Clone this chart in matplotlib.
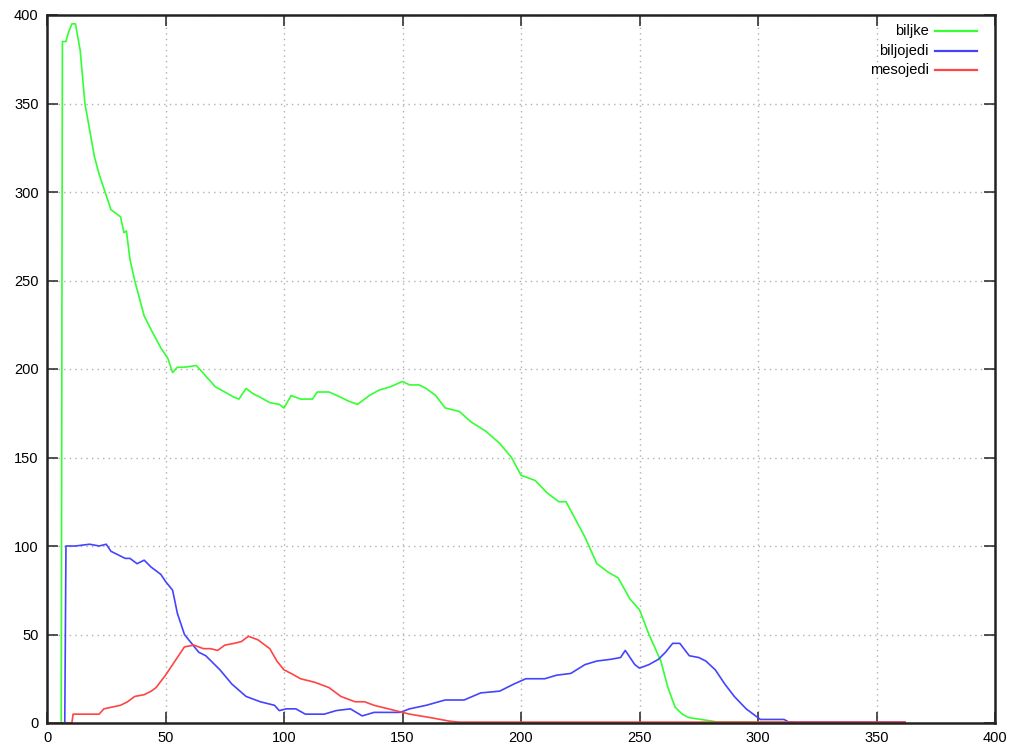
import numpy as np
import matplotlib.pyplot as plt

# population counts per step, sampled at the turning points of each curve
biljke_x = [0, 6, 6.5, 8, 9, 10.5, 12, 14, 16, 18, 20, 22, 25, 27, 31, 32.5, 33.5, 35, 37, 39, 41,
            44, 48, 51, 53, 55, 58, 63, 67, 71, 75, 79, 81, 84, 87, 90, 94, 98, 100, 103, 107,
            112, 114, 119, 124, 127, 131, 136, 140, 145, 150, 153, 157, 160, 164, 168, 174, 179,
            185, 191, 196, 200, 206, 211, 216, 219, 221, 227, 232, 237, 241, 246, 250, 254, 259,
            262, 265, 268, 271, 276, 281, 283, 316]
biljke_y = [0, 0, 385, 385, 390, 395, 395, 380, 350, 335, 320, 310, 298, 290, 286, 277, 278, 262,
            250, 240, 230, 222, 212, 206, 198, 201, 201, 202, 196, 190, 187, 184, 183, 189, 186,
            184, 181, 180, 178, 185, 183, 183, 187, 187, 184, 182, 180, 185, 188, 190, 193, 191,
            191, 189, 185, 178, 176, 170, 165, 158, 150, 140, 137, 130, 125, 125, 120, 105, 90,
            85, 82, 70, 64, 50, 35, 20, 9, 5, 3, 2, 1, 0.5, 0.5]

biljojedi_x = [0, 7.5, 8, 12, 18, 22, 25, 27, 30, 33, 35, 38, 41, 44, 46, 48, 50, 53, 55, 58, 61,
               64, 67, 70, 73, 78, 84, 90, 96, 98, 101, 105, 109, 113, 117, 122, 128, 133, 138,
               149, 153, 160, 168, 176, 183, 191, 197, 202, 210, 215, 221, 227, 232, 238, 242,
               244, 248, 250, 254, 258, 261, 264, 267, 271, 275, 278, 282, 286, 290, 295, 299,
               301, 311, 313, 362]
biljojedi_y = [0, 0, 100, 100, 101, 100, 101, 97, 95, 93, 93, 90, 92, 88, 86, 84, 80, 75, 62, 50,
               45, 40, 38, 34, 30, 22, 15, 12, 10, 7, 8, 8, 5, 5, 5, 7, 8, 4, 6, 6, 8, 10, 13, 13,
               17, 18, 22, 25, 25, 27, 28, 33, 35, 36, 37, 41, 33, 31, 33, 36, 40, 45, 45, 38, 37,
               35, 30, 22, 15, 8, 4, 2, 2, 0.5, 0.5]

mesojedi_x = [0, 10.5, 11, 16, 22, 24, 31, 34, 37, 41, 44, 46, 50, 54, 58, 62, 66, 69, 72, 75,
              79, 82, 85, 89, 94, 97, 100, 103, 107, 113, 119, 121, 124, 130, 134, 138, 147, 153,
              162, 170, 174, 362]
mesojedi_y = [0, 0, 5, 5, 5, 8, 10, 12, 15, 16, 18, 20, 27, 35, 43, 44, 42, 42, 41, 44, 45, 46,
              49, 47, 42, 35, 30, 28, 25, 23, 20, 18, 15, 12, 12, 10, 7, 5, 3, 1, 0.5, 0.5]

series = [
    ("biljke", biljke_x, biljke_y, "#33ff33"),
    ("biljojedi", biljojedi_x, biljojedi_y, "#4444ff"),
    ("mesojedi", mesojedi_x, mesojedi_y, "#ff4444"),
]

plt.rcParams["font.family"] = ["Liberation Sans", "DejaVu Sans"]

fig = plt.figure(figsize=(10.16, 7.53), dpi=100)
ax = fig.add_axes([47 / 1016, 30 / 753, 948 / 1016, 708 / 753])

for name, xs, ys, color in series:
    ax.plot(xs, ys, color=color, lw=1.2)

ax.set_xlim(0, 400)
ax.set_ylim(0, 400)
ax.set_xticks(np.arange(0, 401, 50))
ax.set_yticks(np.arange(0, 401, 50))
ax.grid(True, color="#b0b0b0", linestyle=(0, (1, 3)), lw=1)
ax.tick_params(direction="in", length=8, width=1.2, top=True, right=True,
               labelsize=10.5, color="#333333", pad=6)
for sp in ax.spines.values():
    sp.set_linewidth(1.8)
    sp.set_color("#222222")

# key in the top right corner: label, then a short line sample
for i, (name, xs, ys, color) in enumerate(series):
    yk = 0.977 - i * 0.0275
    ax.text(0.930, yk, name, ha="right", va="center", fontsize=10.5,
            transform=ax.transAxes)
    ax.plot([0.937, 0.981], [yk, yk], color=color, lw=1.6, transform=ax.transAxes)

fig.savefig("out.png", dpi=100)
